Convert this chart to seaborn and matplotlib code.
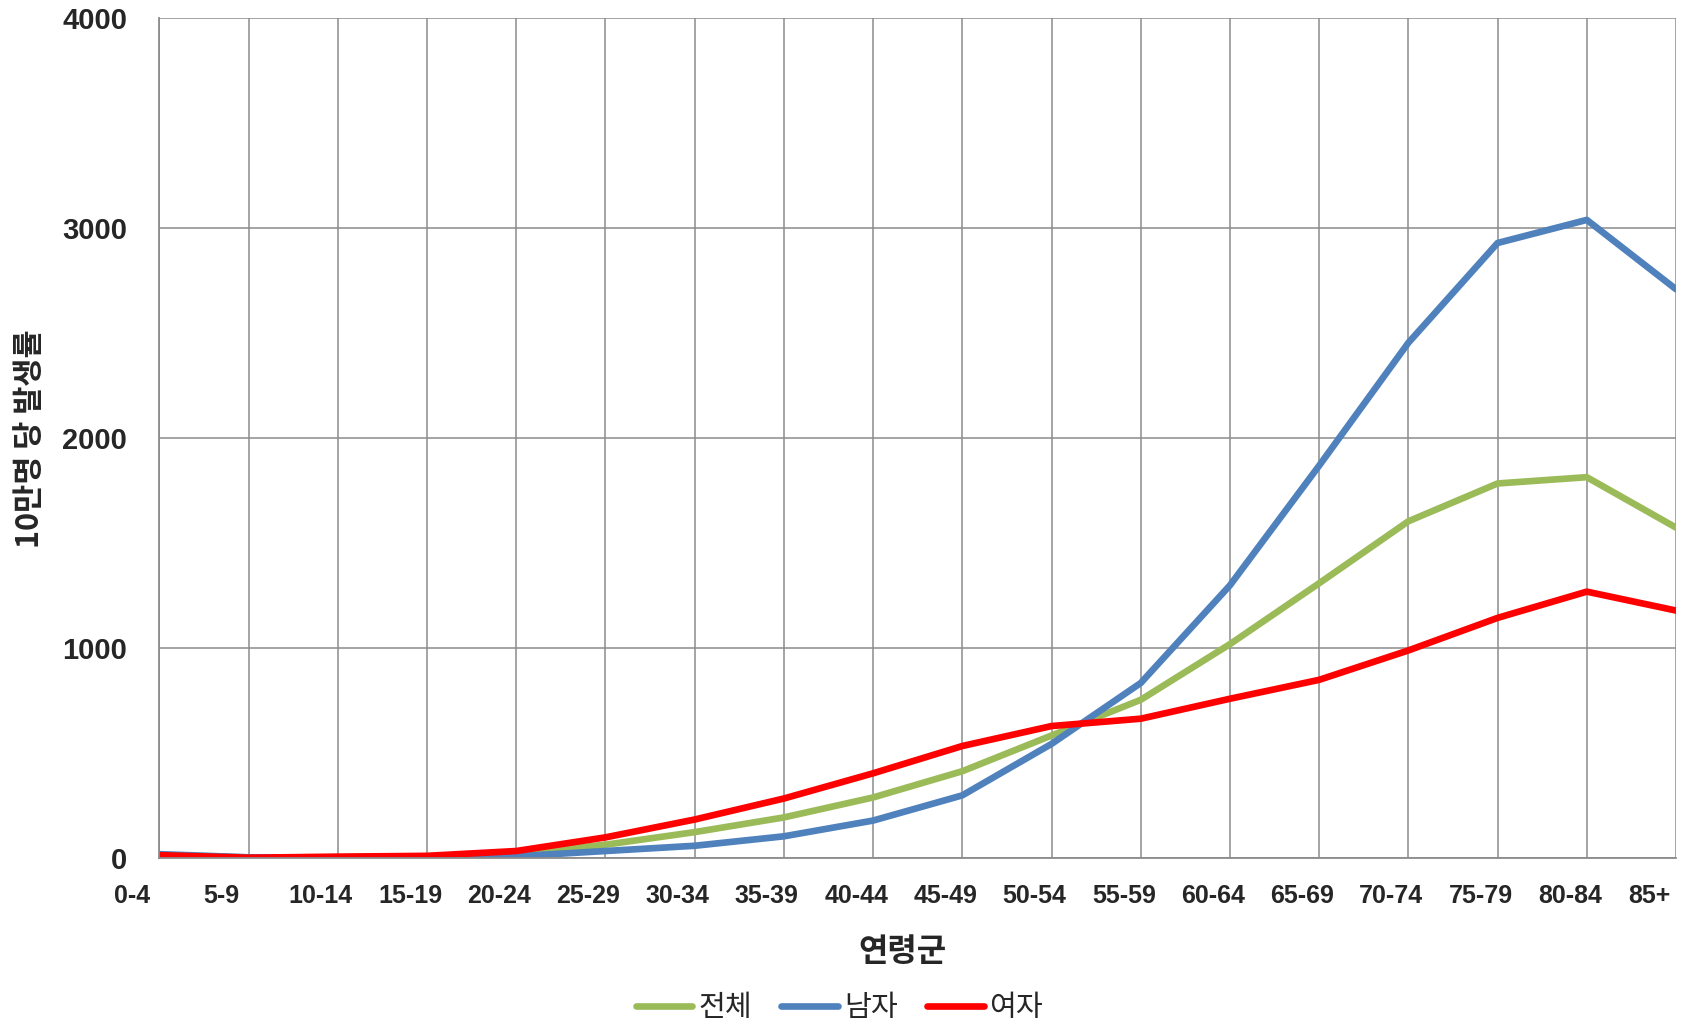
import matplotlib
matplotlib.use("Agg")
import matplotlib.pyplot as plt
import matplotlib.transforms as mtransforms
from matplotlib import font_manager
import seaborn as sns
import pandas as pd

age_groups = ["0-4", "5-9", "10-14", "15-19", "20-24", "25-29", "30-34", "35-39",
              "40-44", "45-49", "50-54", "55-59", "60-64", "65-69", "70-74",
              "75-79", "80-84", "85+"]
total = [17, 4, 6, 10, 22, 65, 125, 195, 290, 415, 585, 755, 1020, 1310, 1605, 1785, 1815, 1575]
male = [20, 5, 5, 8, 10, 35, 60, 105, 180, 300, 545, 835, 1300, 1870, 2455, 2930, 3040, 2710]
female = [15, 3, 8, 12, 35, 100, 185, 285, 405, 535, 630, 665, 760, 850, 990, 1145, 1270, 1180]
series_names = ["전체", "남자", "여자"]
y_ticks = [0, 1000, 2000, 3000, 4000]
x_title = "연령군"
y_title = "10만명 당 발생률"

df = pd.concat([
    pd.DataFrame({"age": age_groups, "rate": vals, "group": name})
    for name, vals in zip(series_names, [total, male, female])
], ignore_index=True)

sns.set_style("white")
names = {f.name for f in font_manager.fontManager.ttflist}
base = "Liberation Sans" if "Liberation Sans" in names else "DejaVu Sans"
narrow = "Liberation Sans Narrow" if "Liberation Sans Narrow" in names else base
plt.rcParams["font.family"] = [base, "Noto Sans CJK KR", "DejaVu Sans"]

W, H = 1689, 1027
fig = plt.figure(figsize=(W / 100, H / 100), dpi=100)
ax = fig.add_axes([0.0944, 0.1642, 0.9923 - 0.0944, 0.9822 - 0.1642])

palette = {"전체": "#9BBB59", "남자": "#4F81BD", "여자": "#FF0000"}
sns.lineplot(data=df, x="age", y="rate", hue="group", hue_order=series_names,
             palette=palette, linewidth=4.8, sort=False, ax=ax, legend=True)

ax.set_xlim(0, len(age_groups) - 1)
ax.set_ylim(0, 4000)
ax.set_yticks(y_ticks)
ax.set_yticklabels([str(v) for v in y_ticks], fontsize=21, fontweight="bold",
                   family=[base, "DejaVu Sans"])
ax.set_xticks(range(len(age_groups)))
ax.set_xticklabels(age_groups, fontsize=18, fontweight="bold", family=[narrow, base])

grid_c = "#8C8C8C"
ax.grid(True, color=grid_c, linewidth=1.1)
ax.set_axisbelow(True)
for s in ["top", "right"]:
    ax.spines[s].set_visible(False)
for s in ["left", "bottom"]:
    ax.spines[s].set_color(grid_c)
    ax.spines[s].set_linewidth(1.3)
ax.tick_params(axis="y", direction="out", length=6.2, width=1.1, color=grid_c, pad=17)
ax.tick_params(axis="x", direction="out", length=6.2, width=1.1, color=grid_c, pad=12)

# shift x tick labels slightly left, as in the reference
for lab in ax.get_xticklabels():
    n = len(lab.get_text())
    dx = -17 if n >= 5 else -27
    lab.set_transform(lab.get_transform() + mtransforms.ScaledTranslation(dx / 100, 0, fig.dpi_scale_trans))

ax.set_xlabel(x_title, fontsize=23, fontweight="bold", family=["Noto Sans CJK KR", base])
ax.xaxis.set_label_coords(0.49, -0.111)
ax.xaxis.label.set_va("center")
ax.set_ylabel(y_title, fontsize=22, fontweight="bold", family=["Noto Sans CJK KR", base])
ax.yaxis.set_label_coords(-0.0853, 0.5)
ax.yaxis.label.set_va("center")

handles, labels = ax.get_legend_handles_labels()
ax.legend(handles, labels, loc="center", bbox_to_anchor=(0.497, 1 - 1008 / H),
          bbox_transform=fig.transFigure, ncol=3, frameon=False,
          prop={"family": ["Noto Sans CJK KR", base], "size": 21},
          handlelength=1.95, handletextpad=0.2, columnspacing=1.0)

fig.savefig("out.png", dpi=100)
